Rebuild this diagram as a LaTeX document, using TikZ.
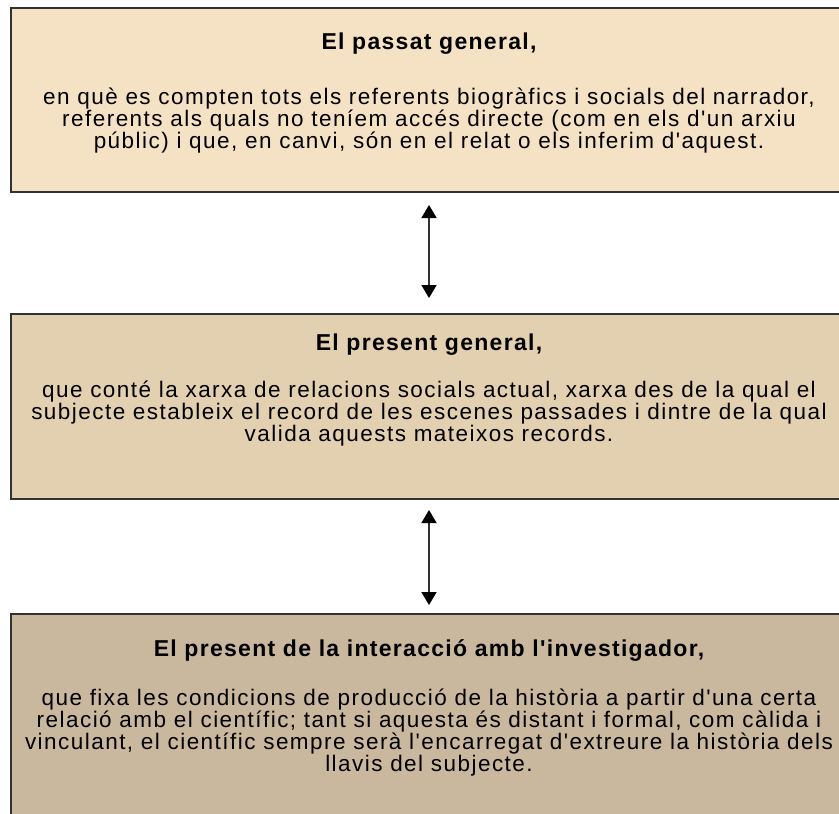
\documentclass[tikz,border=0pt]{standalone}
\usepackage{fontspec}
\setmainfont{Liberation Sans}
\newfontfamily\bodyfont[LetterSpace=6.5]{Liberation Sans}
\newfontfamily\titlefont[LetterSpace=5.6]{Liberation Sans}
\usetikzlibrary{arrows.meta}
\definecolor{boxA}{RGB}{245,226,196}
\definecolor{boxB}{RGB}{226,208,176}
\definecolor{boxC}{RGB}{202,184,158}
\definecolor{edge}{RGB}{50,50,50}
\tikzset{
  panel/.style={draw=edge, line width=2pt, anchor=north west, minimum width=840pt, inner sep=0pt},
  heading/.style={anchor=base, inner sep=0pt, font=\titlefont\bfseries\fontsize{23}{22}\selectfont},
  bodytext/.style={anchor=base, inner sep=0pt, align=center, font=\bodyfont\fontsize{22.5}{22}\selectfont},
  link/.style={draw=edge, line width=1.8pt, {Triangle[width=15pt,length=13pt,color=black]}-{Triangle[width=15pt,length=13pt,color=black]}}
}
\begin{document}
\begin{tikzpicture}[x=1pt,y=1pt]
\useasboundingbox (0,0) rectangle (839,-814);
\begin{scope}
\clip (0,0) rectangle (839,-814);
\node[panel, fill=boxA, minimum height=184pt] (b1) at (9.5,-7) {};
\node[panel, fill=boxB, minimum height=185pt] (b2) at (9.5,-313) {};
\node[panel, fill=boxC, minimum height=230pt] (b3) at (9.5,-613) {};
\end{scope}
\node[heading] (t1) at (429,-49) {El passat general,};
\node[bodytext] (d1) at (429,-148) {en què es compten tots els referents biogràfics i socials del narrador,\\referents als quals no teníem accés directe (com en els d'un arxiu\\públic) i que, en canvi, són en el relat o els inferim d'aquest.};
\node[heading] (t2) at (429,-350) {El present general,};
\node[bodytext] (d2) at (429,-441) {que conté la xarxa de relacions socials actual, xarxa des de la qual el\\subjecte estableix el record de les escenes passades i dintre de la qual\\valida aquests mateixos records.};
\node[heading] (t3) at (429,-656) {El present de la interacció amb l'investigador,};
\node[bodytext] (d3) at (429,-771) {que fixa les condicions de producció de la història a partir d'una certa\\relació amb el científic; tant si aquesta és distant i formal, com càlida i\\vinculant, el científic sempre serà l'encarregat d'extreure la història dels\\llavis del subjecte.};
\draw[link, shorten <=12pt, shorten >=15pt] (b1.south -| 429,0) -- (b2.north -| 429,0);
\draw[link, shorten <=10pt, shorten >=8pt] (b2.south -| 429,0) -- (b3.north -| 429,0);
\end{tikzpicture}
\end{document}
